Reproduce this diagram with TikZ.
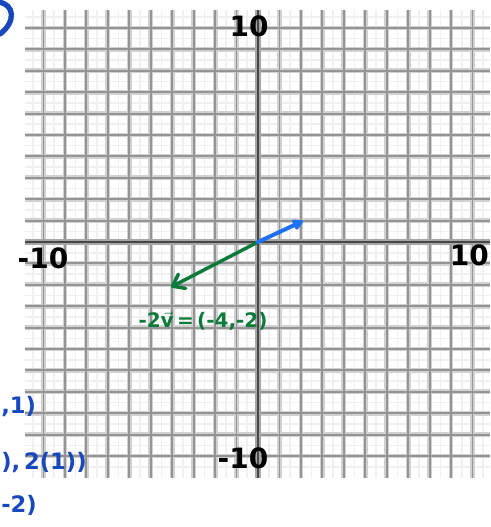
\documentclass[tikz,border=0pt]{standalone}
\usepackage{fontspec}
\setsansfont{DejaVu Sans}
\usetikzlibrary{arrows.meta}
\definecolor{penblue}{HTML}{1F72F2}
\definecolor{pengreen}{HTML}{0B7A3B}
\definecolor{inkblue}{HTML}{1848BE}
\tikzset{
  minorline/.style={draw=black!6, line width=1.2pt},
  majorblur/.style={draw=black!18, line width=3.6pt},
  majorline/.style={draw=black!42, line width=1.4pt},
  axisblur/.style={draw=black!35, line width=4pt},
  axisline/.style={draw=black!72, line width=2pt},
  ticklabel/.style={font=\sffamily\bfseries\fontsize{21}{21}\selectfont, text=black, inner sep=0pt},
  handblue/.style={font=\sffamily\bfseries\fontsize{17}{17}\selectfont, text=inkblue, inner sep=0pt},
  vecblue/.style={draw=penblue, line width=3pt, line cap=round, -{Triangle[length=9pt,width=9pt,round]}},
  vecgreen/.style={draw=pengreen, line width=2.6pt, line cap=round, -{Straight Barb[length=8pt,width=12pt,line width=2.6pt,round]}},
  veclabel/.style={font=\sffamily\bfseries\fontsize{15}{15}\selectfont, text=pengreen, inner sep=0pt}
}
\begin{document}
\begin{tikzpicture}[x=0.75pt,y=-0.75pt]
\useasboundingbox (0,0) rectangle (490,527);
\clip (0,0) rectangle (490,527);
\fill[white] (0,0) rectangle (490,527);
% faint minor lines
\foreach \k in {-10.5,-9.5,...,10.5} {
  \draw[minorline] ({258+\k*21.45},10) -- ({258+\k*21.45},478);
  \draw[minorline] (25,{242+\k*21.4}) -- (490,{242+\k*21.4});
}
% major grid lines
\foreach \k in {-10,...,10} {
  \draw[majorblur] ({258+\k*21.45},10) -- ({258+\k*21.45},478);
  \draw[majorblur] (25,{242+\k*21.4}) -- (490,{242+\k*21.4});
}
\foreach \k in {-10,...,10} {
  \draw[majorline] ({258+\k*21.45},10) -- ({258+\k*21.45},478);
  \draw[majorline] (25,{242+\k*21.4}) -- (490,{242+\k*21.4});
}
% axes
\draw[axisblur] (258,10) -- (258,478);
\draw[axisblur] (25,242) -- (490,242);
\draw[axisline] (258,10) -- (258,478);
\draw[axisline] (25,242) -- (490,242);
% axis labels
\node[ticklabel] (ytop) at (249,26) {10};
\node[ticklabel] (xleft) at (43,258) {-10};
\node[ticklabel, anchor=east] (xright) at (489,255) {10};
\node[ticklabel] (ybot) at (243,458) {-10};
% vectors
\coordinate (O) at (258,242);
\coordinate (B) at (303,221);
\coordinate (G) at (171,287);
\draw[vecgreen] (O) -- (G);
\draw[vecblue] (O) -- (B);
\node[veclabel] (glabel) at (203,321) {-2\ensuremath{\vec{\mbox{v}}}\,=\,(-4,-2)};
% blue handwriting fragments at the left edge
\draw[inkblue, line width=4pt, line cap=round] (-2,2) .. controls (15,4) and (16,22) .. (0,34);
\node[handblue, anchor=west] (frag1) at (1,407) {,1)};
\node[handblue, anchor=west] (frag2) at (1,463) {),\,2(1))};
\node[handblue, anchor=west] (frag3) at (1,505) {-2)};
\end{tikzpicture}
\end{document}
